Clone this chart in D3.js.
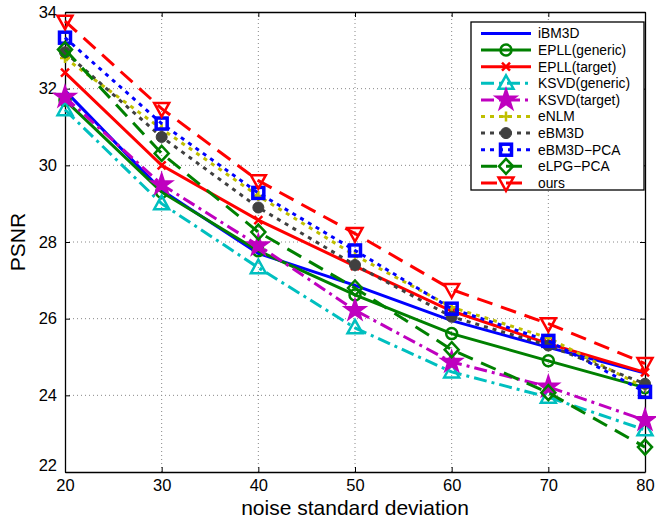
<!DOCTYPE html>
<meta charset="utf-8">
<style>
body { margin: 0; background: #fff; }
svg { font-family: "Liberation Sans", Arial, Helvetica, sans-serif; }
.grid line { stroke: #888; stroke-width: 1; stroke-dasharray: 1,3; }
.tick-label { font-size: 16.5px; fill: #000; }
.axis-title { font-size: 21px; fill: #000; }
.legend text { font-size: 13.8px; fill: #000; }
</style>
<body>
<script src="https://cdn.jsdelivr.net/npm/d3@7"></script>
<script>
var width = 656, height = 519;
var margin = {left: 65, right: 11, top: 12, bottom: 47};

// noise standard deviation
var sigmas = [20, 30, 40, 50, 60, 70, 80];
var xTicks = [20, 30, 40, 50, 60, 70, 80];
var yTicks = [22, 24, 26, 28, 30, 32, 34];

// PSNR per method
var iBM3D       = [31.95, 29.35, 27.70, 26.87, 25.95, 25.25, 24.58];
var epllGeneric = [31.70, 29.30, 27.77, 26.62, 25.61, 24.90, 24.20];
var epllTarget  = [32.42, 30.00, 28.57, 27.37, 26.20, 25.35, 24.60];
var ksvdGeneric = [31.45, 29.00, 27.33, 25.76, 24.61, 23.95, 23.10];
var ksvdTarget  = [31.78, 29.50, 27.91, 26.22, 24.87, 24.22, 23.35];
var eNLM        = [32.80, 30.95, 29.20, 27.65, 26.30, 25.50, 24.20];
var eBM3D       = [32.95, 30.74, 28.90, 27.40, 26.05, 25.30, 24.30];
var eBM3DPCA    = [33.33, 31.09, 29.28, 27.78, 26.26, 25.42, 24.09];
var eLPGPCA     = [33.02, 30.31, 28.26, 26.80, 25.19, 24.07, 22.65];
var ours        = [33.76, 31.48, 29.60, 28.22, 26.76, 25.87, 24.83];

var series = [
  {name: "iBM3D",         values: iBM3D,       color: "#0000ff", dash: null,          marker: "none"},
  {name: "EPLL(generic)", values: epllGeneric, color: "#008000", dash: null,          marker: "circle"},
  {name: "EPLL(target)",  values: epllTarget,  color: "#ff0000", dash: null,          marker: "x"},
  {name: "KSVD(generic)", values: ksvdGeneric, color: "#00bfbf", dash: "13,5,3,5",    marker: "triangleUp"},
  {name: "KSVD(target)",  values: ksvdTarget,  color: "#bf00bf", dash: "13,5,3,5",    marker: "star"},
  {name: "eNLM",          values: eNLM,        color: "#bfbf00", dash: "4,5",         marker: "plus"},
  {name: "eBM3D",         values: eBM3D,       color: "#404040", dash: "4,5",         marker: "dot"},
  {name: "eBM3D\u2212PCA",values: eBM3DPCA,    color: "#0000ff", dash: "4,5",         marker: "square"},
  {name: "eLPG\u2212PCA", values: eLPGPCA,     color: "#008000", dash: "16,9",        marker: "diamond"},
  {name: "ours",          values: ours,        color: "#ff0000", dash: "16,9",        marker: "triangleDown"}
];

var svg = d3.select("body").append("svg")
    .attr("width", width)
    .attr("height", height);

var x = d3.scaleLinear().domain([20, 80]).range([margin.left, width - margin.right]);
var y = d3.scaleLinear().domain([22, 34]).range([height - margin.bottom, margin.top]);

// grid
var grid = svg.append("g").attr("class", "grid");
grid.selectAll(".gx").data(xTicks.slice(1, -1)).enter().append("line")
    .attr("x1", d => x(d)).attr("x2", d => x(d))
    .attr("y1", y(22)).attr("y2", y(34));
grid.selectAll(".gy").data(yTicks.slice(1, -1)).enter().append("line")
    .attr("x1", x(20)).attr("x2", x(80))
    .attr("y1", d => y(d)).attr("y2", d => y(d));

// axes (matlab style: box, inward ticks)
var xAxis = svg.append("g").attr("transform", "translate(0," + y(22) + ")")
    .call(d3.axisBottom(x).tickValues(xTicks).tickSizeInner(-5).tickSizeOuter(0).tickPadding(10));
var xAxisTop = svg.append("g").attr("transform", "translate(0," + y(34) + ")")
    .call(d3.axisTop(x).tickValues(xTicks).tickSizeInner(-5).tickSizeOuter(0).tickFormat(""));
var yAxis = svg.append("g").attr("transform", "translate(" + x(20) + ",0)")
    .call(d3.axisLeft(y).tickValues(yTicks).tickSizeInner(-5).tickSizeOuter(0).tickPadding(8));
var yAxisRight = svg.append("g").attr("transform", "translate(" + x(80) + ",0)")
    .call(d3.axisRight(y).tickValues(yTicks).tickSizeInner(-5).tickSizeOuter(0).tickFormat(""));

[xAxis, xAxisTop, yAxis, yAxisRight].forEach(function(g) {
  g.select(".domain").attr("stroke", "#000").attr("stroke-width", 1.3);
  g.selectAll(".tick line").attr("stroke", "#000");
  g.selectAll(".tick text").attr("class", "tick-label").attr("font-size", null).attr("font-family", null);
});
yAxis.selectAll(".tick text").filter(d => d === 22).attr("dy", "-0.1em");
xAxis.selectAll(".tick text").attr("dy", "0.55em");

svg.append("text").attr("class", "axis-title")
    .attr("x", x(50)).attr("y", 515)
    .attr("text-anchor", "middle")
    .text("noise standard deviation");
svg.append("text").attr("class", "axis-title")
    .attr("transform", "translate(25," + y(28) + ") rotate(-90)")
    .attr("text-anchor", "middle")
    .text("PSNR");

function drawMarker(g, type, color) {
  var s;
  switch (type) {
    case "circle":
      g.append("circle").attr("r", 5.5).attr("fill", "none").attr("stroke", color).attr("stroke-width", 2.5);
      break;
    case "dot":
      g.append("circle").attr("r", 5.5).attr("fill", color).attr("stroke", color).attr("stroke-width", 1);
      break;
    case "x":
      g.append("path").attr("d", "M-4,-4L4,4M-4,4L4,-4").attr("stroke", color).attr("stroke-width", 2.5).attr("fill", "none");
      break;
    case "plus":
      g.append("path").attr("d", "M-5,0L5,0M0,-5L0,5").attr("stroke", color).attr("stroke-width", 2.5).attr("fill", "none");
      break;
    case "square":
      g.append("rect").attr("x", -5.5).attr("y", -5.5).attr("width", 11).attr("height", 11)
          .attr("fill", "none").attr("stroke", color).attr("stroke-width", 3.5);
      break;
    case "diamond":
      g.append("path").attr("d", "M0,-7.5L7,0L0,7.5L-7,0Z").attr("fill", "none").attr("stroke", color).attr("stroke-width", 2.5);
      break;
    case "triangleUp":
      g.append("path").attr("d", "M0,-8L7.5,5.5L-7.5,5.5Z").attr("fill", "none").attr("stroke", color).attr("stroke-width", 2.5);
      break;
    case "triangleDown":
      g.append("path").attr("d", "M0,8L7.5,-5.5L-7.5,-5.5Z").attr("fill", "none").attr("stroke", color).attr("stroke-width", 2.5);
      break;
    case "star":
      s = d3.symbol().type(d3.symbolStar).size(150);
      g.append("path").attr("d", s()).attr("fill", color).attr("stroke", color).attr("stroke-width", 1.5);
      break;
  }
}

var line = d3.line().x((d, i) => x(sigmas[i])).y(d => y(d));

var plot = svg.append("g");
series.forEach(function(s) {
  var g = plot.append("g");
  g.append("path")
      .datum(s.values)
      .attr("d", line)
      .attr("fill", "none")
      .attr("stroke", s.color)
      .attr("stroke-width", 3)
      .attr("stroke-dasharray", s.dash);
  s.values.forEach(function(v, i) {
    var m = g.append("g").attr("transform", "translate(" + x(sigmas[i]) + "," + y(v) + ")");
    drawMarker(m, s.marker, s.color);
  });
});

// legend
var lg = svg.append("g").attr("class", "legend").attr("transform", "translate(471,22)");
lg.append("rect").attr("width", 173).attr("height", 168)
    .attr("fill", "#fff").attr("stroke", "#000").attr("stroke-width", 1.3);
series.forEach(function(s, i) {
  var row = lg.append("g").attr("transform", "translate(0," + (11.5 + i * 16.6) + ")");
  row.append("line").attr("x1", 10).attr("x2", 60)
      .attr("stroke", s.color).attr("stroke-width", 3).attr("stroke-dasharray", s.dash);
  var m = row.append("g").attr("transform", "translate(35,0)");
  drawMarker(m, s.marker, s.color);
  row.append("text").attr("x", 67).attr("y", 0).attr("dy", "0.36em").text(s.name);
});
</script>
</body>
